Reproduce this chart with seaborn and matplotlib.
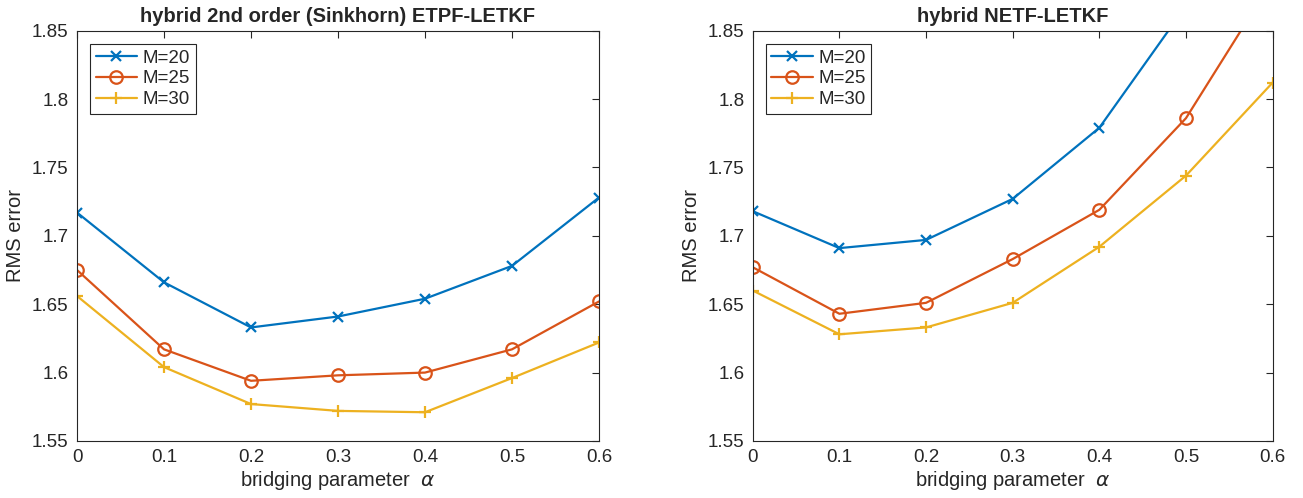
import numpy as np
import pandas as pd
import matplotlib
matplotlib.use('Agg')
import matplotlib.pyplot as plt
from matplotlib.ticker import FuncFormatter
import seaborn as sns

# %%
# data
alpha = [0, 0.1, 0.2, 0.3, 0.4, 0.5, 0.6]
labels = ['M=20', 'M=25', 'M=30']

# hybrid 2nd order (Sinkhorn) ETPF-LETKF
etpf_m20 = [1.717, 1.666, 1.633, 1.641, 1.654, 1.678, 1.728]
etpf_m25 = [1.675, 1.617, 1.594, 1.598, 1.600, 1.617, 1.652]
etpf_m30 = [1.656, 1.604, 1.577, 1.572, 1.571, 1.596, 1.622]

# hybrid NETF-LETKF
netf_m20 = [1.718, 1.691, 1.697, 1.727, 1.779, 1.868, 1.970]
netf_m25 = [1.677, 1.643, 1.651, 1.683, 1.719, 1.786, 1.887]
netf_m30 = [1.660, 1.628, 1.633, 1.651, 1.692, 1.744, 1.812]

titles = ['hybrid 2nd order (Sinkhorn) ETPF-LETKF', 'hybrid NETF-LETKF']

# %%
sns.set_style('white')
plt.rcParams['font.family'] = ['Liberation Sans', 'DejaVu Sans']
plt.rcParams['mathtext.fontset'] = 'dejavusans'

colors = ['#0072BD', '#D95319', '#EDB120']
markers = ['x', 'o', '+']
msizes = [6.5, 9, 8.5]

fig = plt.figure(figsize=(13.03, 4.98), dpi=100)
ax1 = fig.add_axes([0.0591, 0.1145, 0.4006, 0.824])
ax2 = fig.add_axes([0.5777, 0.1145, 0.3990, 0.824])

panels = [(ax1, [etpf_m20, etpf_m25, etpf_m30]),
          (ax2, [netf_m20, netf_m25, netf_m30])]

for (ax, series), title in zip(panels, titles):
    for vals, lab, c, m, ms in zip(series, labels, colors, markers, msizes):
        sns.lineplot(x=alpha, y=vals, ax=ax, color=c, label=lab,
                     marker=m, markersize=ms, markeredgecolor=c,
                     markerfacecolor='none', markeredgewidth=1.6,
                     linewidth=1.6)
    ax.set_xlim(0, 0.6)
    ax.set_ylim(1.55, 1.85)
    ax.set_xticks(alpha)
    ax.set_yticks([1.55, 1.6, 1.65, 1.7, 1.75, 1.8, 1.85])
    ax.xaxis.set_major_formatter(FuncFormatter(lambda v, p: '%g' % round(v, 2)))
    ax.yaxis.set_major_formatter(FuncFormatter(lambda v, p: '%g' % round(v, 2)))
    ax.tick_params(direction='in', top=True, right=True, length=5,
                   width=0.8, colors='#262626', labelsize=13.5, pad=6)
    for sp in ax.spines.values():
        sp.set_color('#262626')
        sp.set_linewidth(0.8)
    ax.set_title(title, fontsize=14.5, fontweight='bold', pad=6)
    ax.set_xlabel(r'bridging parameter  $\alpha$', fontsize=14.5, labelpad=2,
                  color='#262626')
    ax.set_ylabel('RMS error', fontsize=14.5, labelpad=5, color='#262626')
    leg = ax.legend(loc='upper left', fontsize=13.5, fancybox=False,
                    framealpha=1, edgecolor='#262626', handlelength=2.2,
                    borderpad=0.3, labelspacing=0.2, handletextpad=0.3,
                    borderaxespad=0.7)
    leg.get_frame().set_linewidth(0.8)

plt.savefig('out.png', dpi=100)
